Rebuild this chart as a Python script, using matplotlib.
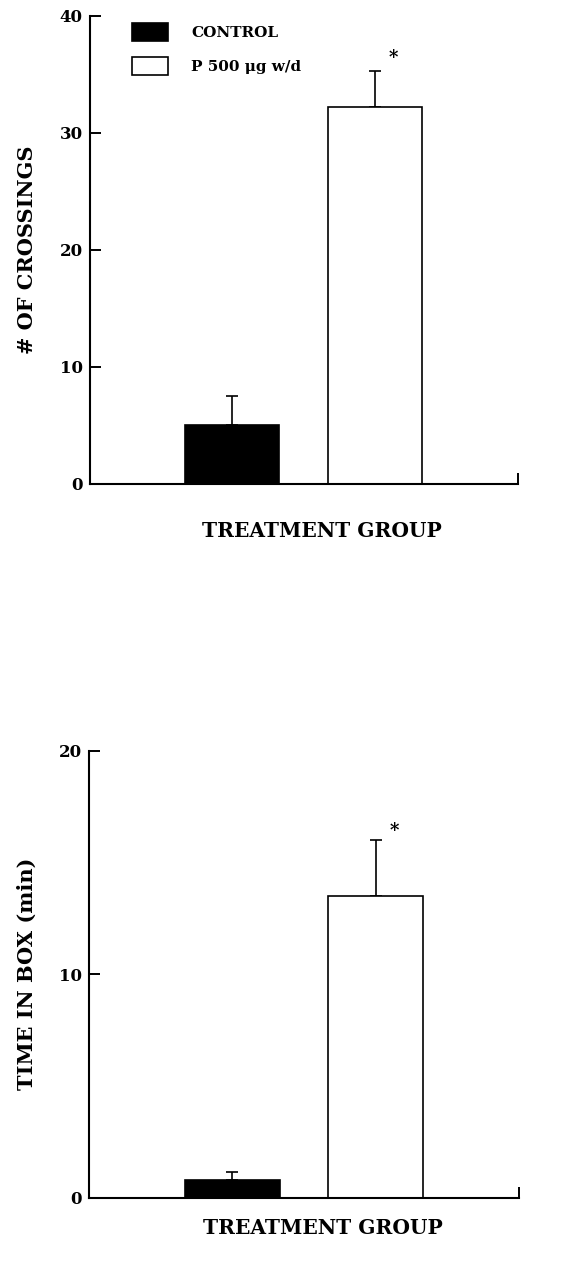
import numpy as np
import matplotlib.pyplot as plt
from matplotlib.patches import Patch

# data
groups = ['CONTROL', 'P 500 μg w/d']
crossings = [5.0, 32.2]
crossings_err = [2.5, 3.1]
time_box = [0.8, 13.5]
time_box_err = [0.35, 2.5]

plt.rcParams['font.family'] = ['DejaVu Serif']
plt.rcParams['font.weight'] = 'bold'

fig = plt.figure(figsize=(5.63, 12.78), dpi=100)
ax1 = fig.add_axes([0.159, 0.6213, 0.761, 0.3664])
ax2 = fig.add_axes([0.158, 0.0628, 0.764, 0.3498])

xpos = np.array([1, 2])
colors = ['black', 'white']


def panel(ax, vals, errs, ymax, step, ylabel, star_dy, xlab_y):
    ax.bar(xpos, vals, width=0.66, color=colors, edgecolor='black', linewidth=1.2, zorder=2)
    ax.errorbar(xpos, vals, yerr=[[0, 0], errs], fmt='none', ecolor='black',
                elinewidth=1.2, capsize=4, capthick=1.2, zorder=1)
    ax.text(xpos[1] + 0.13, vals[1] + errs[1] + star_dy, '*', ha='center', va='center',
            fontsize=13, fontweight='bold')
    ax.set_xlim(0, 3)
    ax.set_ylim(0, ymax)
    ax.set_yticks(np.arange(0, ymax + 1, step))
    ax.set_xticks([3])
    ax.set_xticklabels([''])
    ax.tick_params(axis='both', direction='in', length=8, width=1.4, labelsize=12, pad=5)
    for lab in ax.get_yticklabels():
        lab.set_fontweight('bold')
    for s in ['top', 'right']:
        ax.spines[s].set_visible(False)
    for s in ['left', 'bottom']:
        ax.spines[s].set_linewidth(1.5)
    ax.set_xlabel('TREATMENT GROUP', fontsize=14.5, fontweight='bold')
    ax.xaxis.set_label_coords(0.543, xlab_y)
    ax.set_ylabel(ylabel, fontsize=15, fontweight='bold', labelpad=16)


panel(ax1, crossings, crossings_err, 40, 10, '# OF CROSSINGS', 1.05, -0.079)
panel(ax2, time_box, time_box_err, 20, 10, 'TIME IN BOX (min)', 0.4, -0.045)

handles = [Patch(facecolor=c, edgecolor='black', linewidth=1.2) for c in colors]
ax1.legend(handles, groups, loc='upper left', bbox_to_anchor=(0.1, 0.984), frameon=False,
           handlelength=2.3, handleheight=1.4, handletextpad=1.55,
           labelspacing=1.05, borderpad=0, borderaxespad=0, prop={'weight': 'bold', 'size': 11})

fig.savefig('out.png', dpi=100)
